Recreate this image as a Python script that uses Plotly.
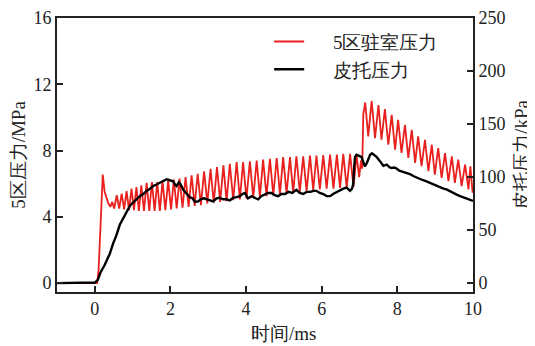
import plotly.graph_objects as go

# ---- data ----
red_t = [-1.0, 0.06, 0.10, 0.15, 0.21, 0.26, 0.31, 0.36, 0.41, 0.46,
         0.51, 0.58, 0.645, 0.71, 0.775, 0.84, 0.905, 0.97, 1.035, 1.10,
         1.165, 1.23, 1.30, 1.37, 1.44, 1.51, 1.58, 1.65, 1.72, 1.79,
         1.865, 1.94, 2.015, 2.09, 2.165, 2.24, 2.32, 2.40, 2.48, 2.56,
         2.64, 2.72, 2.805, 2.89, 2.975, 3.06, 3.145, 3.23, 3.315, 3.40,
         3.485, 3.57, 3.66, 3.75, 3.835, 3.92, 4.01, 4.10, 4.19, 4.28,
         4.365, 4.45, 4.54, 4.63, 4.72, 4.81, 4.895, 4.98, 5.07, 5.16,
         5.245, 5.33, 5.42, 5.51, 5.60, 5.69, 5.775, 5.86, 5.95, 6.04,
         6.13, 6.22, 6.31, 6.40, 6.485, 6.57, 6.66, 6.75, 6.84, 6.92,
         6.99, 7.04, 7.07, 7.10, 7.15, 7.23, 7.32, 7.41, 7.50, 7.58,
         7.67, 7.76, 7.85, 7.94, 8.02, 8.11, 8.20, 8.29, 8.38, 8.47,
         8.55, 8.64, 8.73, 8.82, 8.91, 8.99, 9.08, 9.17, 9.26, 9.35,
         9.44, 9.52, 9.61, 9.70, 9.79, 9.88, 9.93, 9.99]
red_v = [0.0, 0.0, 0.8, 3.8, 6.55, 5.5, 5.1, 4.8, 4.6, 4.9,
         4.5, 5.3, 4.5, 5.4, 4.45, 5.55, 4.4, 5.7, 4.4, 5.8,
         4.35, 5.9, 4.35, 6.05, 4.35, 6.1, 4.35, 6.1, 4.35, 6.15,
         4.4, 6.2, 4.45, 6.25, 4.5, 6.3, 4.55, 6.4, 4.6, 6.5,
         4.65, 6.6, 4.7, 6.75, 4.8, 6.9, 4.85, 7.0, 4.9, 7.1,
         4.95, 7.2, 5.0, 7.3, 5.05, 7.3, 5.1, 7.35, 5.15, 7.4,
         5.2, 7.45, 5.25, 7.5, 5.3, 7.55, 5.35, 7.6, 5.4, 7.6,
         5.45, 7.65, 5.5, 7.65, 5.55, 7.7, 5.6, 7.7, 5.65, 7.72,
         5.7, 7.75, 5.7, 7.75, 5.75, 7.8, 5.75, 7.8, 5.8, 7.75,
         6.4, 7.4, 6.9, 10.2, 10.9, 8.85, 11.0, 8.75, 10.75, 8.65,
         10.5, 8.35, 10.15, 8.05, 9.85, 7.85, 9.55, 7.55, 9.25, 7.25,
         8.85, 7.05, 8.65, 6.75, 8.35, 6.55, 8.15, 6.35, 7.85, 6.15,
         7.65, 6.05, 7.45, 5.85, 7.15, 5.65, 7.05, 5.45]

black_t = [-1.0, 0.0, 0.08, 0.15, 0.26, 0.33, 0.40, 0.48, 0.57, 0.66,
           0.75, 0.84, 0.93, 1.01, 1.10, 1.19, 1.28, 1.37, 1.46, 1.54,
           1.63, 1.72, 1.81, 1.90, 1.98, 2.07, 2.12, 2.16, 2.22, 2.27,
           2.34, 2.42, 2.51, 2.58, 2.65, 2.73, 2.80, 2.88, 2.96, 3.04,
           3.13, 3.22, 3.30, 3.39, 3.48, 3.57, 3.66, 3.75, 3.84, 3.90,
           3.97, 4.05, 4.15, 4.25, 4.32, 4.40, 4.50, 4.58, 4.67, 4.75,
           4.85, 4.93, 5.03, 5.12, 5.22, 5.33, 5.42, 5.51, 5.60, 5.70,
           5.78, 5.86, 5.95, 6.04, 6.13, 6.22, 6.30, 6.40, 6.48, 6.57,
           6.66, 6.75, 6.80, 6.83, 6.86, 6.88, 6.92, 6.97, 7.01, 7.05,
           7.10, 7.14, 7.19, 7.23, 7.28, 7.33, 7.38, 7.45, 7.54, 7.63,
           7.72, 7.80, 7.85, 7.92, 7.98, 8.05, 8.11, 8.20, 8.29, 8.35,
           8.42, 8.51, 8.60, 8.68, 8.77, 8.86, 8.95, 9.04, 9.13, 9.22,
           9.30, 9.39, 9.48, 9.57, 9.66, 9.74, 9.83, 9.92, 10.0]
black_v = [0.0, 0.5, 3.0, 10.0, 17.0, 22.0, 28.0, 37.0, 45.0, 55.0,
           61.0, 68.0, 73.0, 76.0, 79.0, 82.0, 84.0, 87.0, 89.0, 91.5,
           93.0, 94.5, 96.0, 98.0, 97.0, 96.0, 93.0, 91.5, 95.0, 93.0,
           88.0, 85.0, 81.0, 80.0, 76.5, 77.0, 79.0, 80.0, 79.0, 77.5,
           77.0, 80.0, 80.5, 79.0, 79.0, 78.0, 80.5, 81.0, 82.0, 84.0,
           85.0, 80.0, 82.0, 80.0, 79.0, 82.0, 84.0, 85.0, 85.0, 83.0,
           82.0, 84.0, 84.0, 86.0, 85.0, 88.0, 85.0, 84.0, 86.0, 86.0,
           87.0, 87.0, 85.0, 84.0, 82.0, 82.0, 84.0, 86.0, 88.0, 89.0,
           90.0, 87.0, 89.0, 93.0, 110.0, 119.0, 121.0, 120.5, 120.0, 119.0,
           114.0, 110.0, 113.0, 116.0, 121.0, 122.5, 121.0, 119.0, 115.0, 110.5,
           111.7, 109.0, 108.5, 109.0, 108.0, 106.0, 105.4, 104.5, 103.8, 102.5,
           101.0, 99.5, 97.7, 97.0, 96.0, 94.5, 93.0, 92.0, 90.0, 89.0,
           88.4, 87.0, 85.0, 83.5, 82.0, 81.0, 79.5, 78.5, 77.5]

x_ticks = [0, 2, 4, 6, 8, 10]
left_ticks = [0, 4, 8, 12, 16]
right_ticks = [0, 50, 100, 150, 200, 250]

series_names = ["5区驻室压力", "皮托压力"]
PAD = "\u00a0" * 5  # gap between legend line and its label

FONT = "Liberation Serif"
AX = "#222222"
FS = 19
TFS = 18

fig = go.Figure()
fig.add_trace(go.Scatter(x=red_t, y=red_v, mode="lines", name=PAD + series_names[0],
                         line=dict(color="#e8201e", width=1.8), yaxis="y"))
fig.add_trace(go.Scatter(x=black_t, y=black_v, mode="lines", name=PAD + series_names[1],
                         line=dict(color="#000000", width=2.4), yaxis="y2"))

axis_common = dict(ticks="inside", ticklen=6, tickwidth=1.5, tickcolor=AX,
                   showline=True, linecolor=AX, linewidth=1.6,
                   showgrid=False, zeroline=False, automargin=False,
                   ticklabeloverflow="allow",
                   tickfont=dict(size=TFS, family=FONT, color="#222222"))

fig.update_layout(
    template="none",
    width=527, height=338,
    margin=dict(l=49, r=62, t=10, b=54, autoexpand=False),
    paper_bgcolor="white", plot_bgcolor="white",
    font=dict(family=FONT, size=FS, color="#222222"),
    showlegend=True,
    legend=dict(x=0.51, y=0.983, xanchor="left", yanchor="top",
                bgcolor="rgba(0,0,0,0)", borderwidth=0,
                font=dict(size=FS, family=FONT), tracegroupgap=0),
    xaxis=dict(range=[-1, 10], tickvals=x_ticks, mirror=True, **axis_common),
    yaxis=dict(range=[-0.54, 16], tickvals=left_ticks,
               title=dict(text="5区压力/MPa", font=dict(size=FS, family=FONT), standoff=7),
               **axis_common),
    yaxis2=dict(range=[-8.4, 250], tickvals=right_ticks,
                overlaying="y", side="right",
                title=dict(text="皮托压力/kPa", font=dict(size=FS, family=FONT), standoff=10),
                **axis_common),
    annotations=[dict(text="时间/ms", xref="x", yref="paper", x=5, y=-0.15,
                      xanchor="center", yanchor="middle", showarrow=False,
                      font=dict(size=FS, family=FONT))],
)

fig.write_html("out.html")
